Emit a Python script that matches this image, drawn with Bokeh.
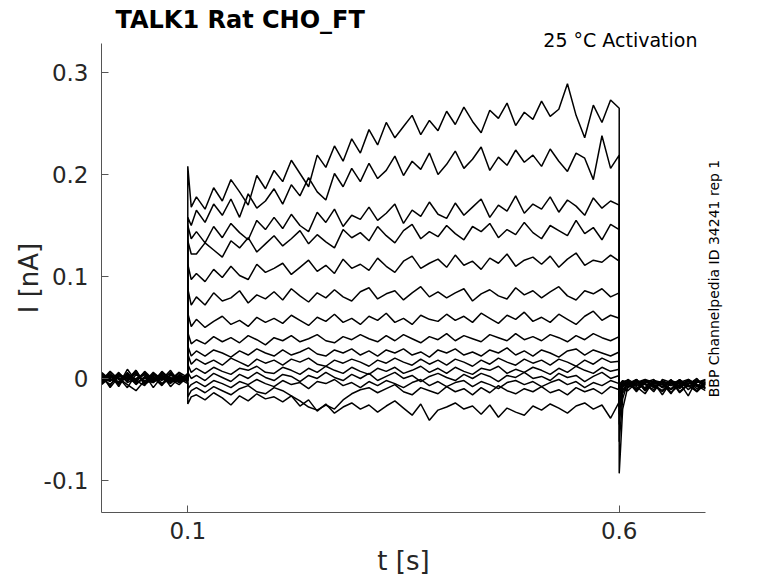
import numpy as np
from bokeh.plotting import figure
from bokeh.models import Label, FixedTicker
from bokeh.embed import file_html
from bokeh.resources import INLINE

# ---- time samples [s]: pre-pulse, step (0.1-0.6 s), post-pulse ----
T_PRE = [0.00, 0.01, 0.02, 0.03, 0.04, 0.05, 0.06, 0.07, 0.08, 0.09, 0.10]
T_STEP = [0.100, 0.104,
          0.11, 0.12, 0.13, 0.14, 0.15, 0.16, 0.17, 0.18, 0.19, 0.20,
          0.21, 0.22, 0.23, 0.24, 0.25, 0.26, 0.27, 0.28, 0.29, 0.30,
          0.31, 0.32, 0.33, 0.34, 0.35, 0.36, 0.37, 0.38, 0.39, 0.40,
          0.41, 0.42, 0.43, 0.44, 0.45, 0.46, 0.47, 0.48, 0.49, 0.50,
          0.51, 0.52, 0.53, 0.54, 0.55, 0.56, 0.57, 0.58, 0.59, 0.60]
T_POST = [0.600, 0.604, 0.61, 0.62, 0.63, 0.64, 0.65, 0.66, 0.67, 0.68, 0.69, 0.70]
TIME = T_PRE + T_STEP + T_POST

# ---- current traces in pA: pre + step + post ----
TRACE_01 = [2, -7, 5, -1, 8, -6, 4, 0, -3, 6, 1,
            208, 168,
            178, 166, 187, 174, 195, 183, 170, 199, 186, 204,
            193, 214, 201, 188, 219, 207, 228, 213, 235, 221,
            244, 229, 251, 236, 247, 258, 239, 253, 243, 262,
            249, 266, 252, 241, 263, 255, 270, 248, 261, 254,
            272, 257, 264, 289, 258, 236, 268, 251, 273, 265,
            -93, -30, -8, -1, -12, -3, -9, -2, -14, -6, 0, -10]
TRACE_02 = [-3, 4, -8, 6, -5, 1, -4, 7, -1, -6, 2,
            158, 150,
            165, 153, 171, 160, 176, 158, 181, 167, 174, 186,
            171, 190, 179, 197, 183, 175, 201, 188, 206, 193,
            211, 196, 204, 218, 199, 213, 205, 221, 200, 210,
            223, 206, 215, 227, 204, 217, 209, 224, 212, 219,
            208, 225, 213, 203, 221, 216, 195, 238, 206, 219,
            -62, -20, -3, -13, -2, -9, -5, -15, -1, -7, -12, -3]
TRACE_03 = [5, -2, 1, -9, 4, -3, 6, -1, 8, -4, 0,
            150, 137,
            144, 133, 149, 138, 152, 143, 136, 155, 146, 158,
            147, 161, 150, 144, 163, 153, 166, 149, 160, 156,
            168, 155, 162, 171, 152, 165, 159, 173, 161, 157,
            172, 160, 168, 176, 158, 170, 164, 179, 162, 171,
            166, 178, 163, 175, 169, 160, 177, 167, 174, 170,
            -45, -14, -9, -1, -11, -4, -16, -3, -8, -2, -13, -5]
TRACE_04 = [-1, 3, -6, 9, -3, 5, -2, 4, -8, 1, 3,
            135, 122,
            122, 133, 126, 119, 135, 128, 138, 124, 132, 140,
            130, 137, 145, 132, 141, 134, 128, 146, 138, 143,
            135, 149, 140, 133, 145, 151, 137, 144, 139, 150,
            142, 136, 149, 144, 152, 138, 146, 141, 153, 143,
            137, 150, 145, 140, 155, 142, 148, 136, 151, 146,
            -35, -12, -3, -8, -15, -2, -6, -11, -4, -17, -1, -7]
TRACE_05 = [4, -9, 2, 0, -4, 7, -1, 5, -3, 2, -2,
            112, 97,
            103, 95, 107, 99, 110, 101, 97, 112, 104, 108,
            113, 102, 109, 116, 105, 111, 103, 117, 108, 112,
            106, 118, 110, 104, 115, 120, 108, 113, 117, 109,
            121, 111, 115, 107, 118, 113, 122, 110, 116, 119,
            112, 120, 109, 117, 123, 111, 116, 114, 121, 115,
            -28, -10, -12, -4, -1, -9, -3, -14, -6, -2, -10, -4]
TRACE_06 = [-6, 1, 4, -3, 8, -5, 3, -2, 6, -1, 4,
            88, 72,
            80, 72, 84, 76, 79, 86, 74, 82, 78, 85,
            77, 88, 81, 75, 84, 79, 87, 80, 76, 85,
            89, 78, 83, 86, 77, 84, 90, 80, 85, 79,
            84, 88, 76, 83, 87, 81, 78, 89, 82, 86,
            79, 85, 90, 81, 77, 86, 83, 88, 80, 84,
            -22, -9, -2, -11, -5, -13, -1, -4, -10, -3, -7, -12]
TRACE_07 = [1, -3, 6, -4, 0, 4, -9, 2, -2, 3, -1,
            64, 51,
            58, 50, 56, 61, 53, 57, 51, 60, 55, 59,
            54, 62, 57, 52, 60, 56, 63, 55, 59, 53,
            61, 57, 64, 55, 59, 53, 62, 58, 56, 63,
            57, 61, 55, 64, 59, 54, 62, 58, 65, 56,
            60, 55, 63, 58, 53, 61, 66, 57, 62, 59,
            -18, -7, -6, -2, -12, -3, -8, -1, -13, -5, -2, -9]
TRACE_08 = [-2, 7, -1, 3, -6, 2, -3, 6, 0, -4, 2,
            45, 34,
            38, 34, 41, 36, 40, 35, 42, 38, 33, 40,
            37, 42, 36, 39, 43, 37, 35, 41, 38, 43,
            39, 36, 42, 37, 43, 39, 35, 41, 38, 44,
            37, 42, 39, 36, 43, 40, 37, 44, 38, 41,
            37, 43, 40, 36, 42, 38, 44, 40, 37, 41,
            -15, -6, -4, -10, -3, -7, -13, -5, -2, -8, -4, -1]
TRACE_09 = [3, 0, -4, 5, -2, -7, 5, -5, 3, 1, -3,
            32, 22,
            27, 22, 28, 25, 21, 27, 23, 29, 25, 22,
            28, 23, 26, 30, 24, 22, 28, 25, 29, 23,
            27, 22, 28, 25, 29, 23, 26, 21, 28, 25,
            29, 23, 26, 22, 28, 25, 30, 23, 27, 22,
            28, 25, 21, 27, 29, 23, 28, 25, 22, 26,
            -12, -5, -1, -6, -9, -2, -4, -11, -3, -7, -13, -3]
TRACE_10 = [-4, 2, 3, -2, 5, -4, 1, -7, 4, -2, 0,
            24, 14,
            19, 14, 18, 13, 20, 16, 12, 19, 15, 18,
            13, 19, 16, 20, 14, 12, 18, 15, 19, 16,
            12, 18, 15, 20, 16, 13, 19, 14, 18, 13,
            19, 16, 12, 18, 14, 20, 16, 13, 19, 15,
            18, 13, 19, 16, 12, 18, 14, 20, 16, 17,
            -10, -4, -8, -3, -6, -11, -2, -7, -4, -1, -6, -9]
TRACE_11 = [0, -6, 3, 1, -1, 6, -3, 0, -5, 4, -2,
            14, 6,
            10, 5, 11, 7, 4, 10, 8, 12, 6, 5,
            11, 8, 4, 10, 6, 12, 8, 5, 11, 7,
            4, 10, 7, 11, 5, 8, 12, 6, 10, 5,
            11, 7, 4, 10, 8, 12, 5, 9, 6, 11,
            8, 4, 10, 6, 12, 8, 5, 11, 7, 9,
            -8, -3, -2, -12, -4, -1, -9, -3, -7, -5, -2, -6]
TRACE_12 = [6, -1, -3, 4, -4, 0, 2, -6, 1, -3, 5,
            6, 0,
            3, -2, 5, 1, -3, 4, 0, 6, 1, -2,
            4, 2, -3, 3, 0, 6, 1, -2, 4, 0,
            5, -2, 2, 6, 0, 3, -3, 2, 5, 1,
            -2, 4, 0, 5, 2, -3, 3, 1, 6, 0,
            2, -2, 5, 1, 3, -3, 2, 6, 0, 3,
            -6, -2, -5, -1, -10, -5, -3, -7, -1, -11, -4, -2]
TRACE_13 = [-5, 3, 0, -6, -12, -2, -4, 3, -1, 6, -4,
            -10, -6,
            -3, -8, -2, -5, -9, -3, -6, -1, -5, -8,
            -2, -6, -4, -10, -3, -5, -1, -7, -4, -9,
            -3, -7, -2, -5, -9, -4, -1, -7, -3, -8,
            -4, -2, -8, -3, -6, -10, -4, -2, -6, -3,
            -8, -4, -1, -6, -3, -9, -4, -7, -2, -5,
            -7, -4, -9, -5, -2, -6, -12, -2, -5, -3, -8, -1]
TRACE_14 = [2, -2, 4, -3, 6, -6, 0, -1, 5, -2, 1,
            -18, -12,
            -9, -14, -8, -12, -16, -10, -7, -13, -15, -9,
            -12, -17, -22, -28, -31, -26, -30, -21, -15, -11,
            -9, -14, -10, -6, -13, -16, -9, -12, -15, -8,
            -13, -10, -16, -9, -14, -7, -12, -15, -10, -13,
            -8, -14, -11, -16, -9, -13, -10, -15, -8, -11,
            -14, -8, -3, -7, -1, -4, -6, -10, -2, -8, -3, -5]
TRACE_15 = [-3, 6, -5, 2, -1, 4, -2, 1, -4, 0, -5,
            -25, -18,
            -16, -21, -14, -19, -26, -17, -22, -15, -20, -18,
            -23, -17, -27, -21, -32, -25, -34, -28, -24, -30,
            -26, -33, -27, -22, -29, -36, -25, -41, -31, -28,
            -24, -30, -27, -35, -26, -38, -29, -33, -36, -27,
            -31, -25, -29, -34, -27, -24, -30, -26, -39, -23,
            -26, -12, -6, -2, -5, -8, -3, -5, -9, -1, -6, -10]

TRACES = [TRACE_01, TRACE_02, TRACE_03, TRACE_04, TRACE_05, TRACE_06, TRACE_07,
          TRACE_08, TRACE_09, TRACE_10, TRACE_11, TRACE_12, TRACE_13, TRACE_14, TRACE_15]

X_TICKS = [0.1, 0.6]
Y_TICKS = [-0.1, 0, 0.1, 0.2, 0.3]
Y_TICK_LABELS = ["-0.1", "0", "0.1", "0.2", "0.3"]

# y axis line span, and the taller view that also holds the title texts
Y_LIM = (-0.1314, 0.3284)
Y_VIEW = (-0.1314, 0.3706)
X_VIEW = (0.0, 0.7)

TITLE = "TALK1  Rat  CHO_FT"
NOTE = "25 \u00b0C  Activation"
SIDE = "BBP Channelpedia ID 34241 rep 1"
X_LABEL = "t [s]"
Y_LABEL = "I [nA]"

FONT = "DejaVu Sans"
TXT = "#262626"

p = figure(frame_width=604, frame_height=512,
           min_border=0, min_border_left=101, min_border_right=73,
           min_border_top=0, min_border_bottom=71,
           x_range=X_VIEW, y_range=Y_VIEW,
           output_backend="svg", toolbar_location=None)

for tr in TRACES:
    assert len(tr) == len(TIME)
    p.line(TIME, np.array(tr) / 1000.0, line_color="black", line_width=1.5)

p.grid.visible = False
p.outline_line_color = None
p.background_fill_color = "white"
p.border_fill_color = "white"

for ax in (p.xaxis[0], p.yaxis[0]):
    ax.axis_line_color = "#555555"
    ax.axis_line_width = 1
    ax.major_tick_line_color = "#555555"
    ax.major_tick_in = 7
    ax.major_tick_out = 0
    ax.minor_tick_line_color = None
    ax.major_label_text_font = FONT
    ax.major_label_text_font_size = "23px"
    ax.major_label_text_color = TXT
    ax.axis_label_text_font = FONT
    ax.axis_label_text_font_size = "26px"
    ax.axis_label_text_font_style = "normal"
    ax.axis_label_text_color = TXT

p.xaxis.ticker = FixedTicker(ticks=X_TICKS)
p.xaxis.major_label_overrides = {0.1: "0.1", 0.6: "0.6"}
p.xaxis.axis_label = X_LABEL
p.xaxis.major_label_standoff = 9
p.xaxis.axis_label_standoff = 4

p.yaxis.bounds = Y_LIM
p.yaxis.ticker = FixedTicker(ticks=Y_TICKS)
p.yaxis.major_label_overrides = {v: s for v, s in zip(Y_TICKS, Y_TICK_LABELS)}
p.yaxis.major_label_standoff = 13

# texts inside the (taller) frame
p.add_layout(Label(x=0.0162, y=0.3519, text=TITLE, text_font=FONT,
                   text_font_style="bold", text_font_size="24px",
                   text_color="black", text_baseline="alphabetic"))
p.add_layout(Label(x=0.6977, y=0.3318, text=NOTE, text_font=FONT,
                   text_font_size="19px", text_color="black",
                   text_align="right", text_baseline="alphabetic"))
# texts in the side panels (not clipped to the frame)
p.add_layout(Label(x=0.7093, y=0.098, text=SIDE, text_font=FONT,
                   text_font_size="14px", text_color="black", angle=np.pi / 2,
                   text_align="center", text_baseline="alphabetic"), "right")
p.add_layout(Label(x=-0.0846, y=0.0985, text=Y_LABEL, text_font=FONT,
                   text_font_size="26px", text_color=TXT, angle=np.pi / 2,
                   text_align="center", text_baseline="middle"), "left")

open("out.html", "w").write(file_html(p, INLINE))
